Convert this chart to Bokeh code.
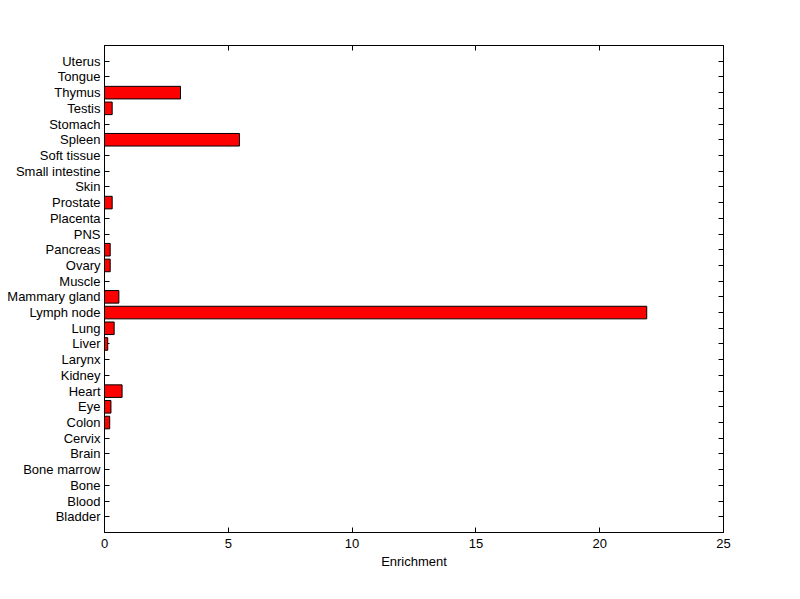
from bokeh.plotting import figure
from bokeh.models import Range1d, LinearAxis, FixedTicker, ColumnDataSource
from bokeh.embed import file_html
from bokeh.resources import INLINE

tissues = ["Bladder", "Blood", "Bone", "Bone marrow", "Brain", "Cervix", "Colon", "Eye",
           "Heart", "Kidney", "Larynx", "Liver", "Lung", "Lymph node", "Mammary gland",
           "Muscle", "Ovary", "Pancreas", "PNS", "Placenta", "Prostate", "Skin",
           "Small intestine", "Soft tissue", "Spleen", "Stomach", "Testis", "Thymus",
           "Tongue", "Uterus"]
enrichment = [0, 0, 0, 0, 0, 0, 0.21, 0.26, 0.71, 0, 0, 0.13, 0.39, 21.9, 0.58,
              0, 0.23, 0.23, 0, 0, 0.31, 0, 0, 0, 5.45, 0, 0.31, 3.07, 0, 0]
x_ticks = [0, 5, 10, 15, 20, 25]

positions = list(range(1, len(tissues) + 1))
src = ColumnDataSource(dict(y=positions, right=enrichment))

FONT = "Liberation Sans"
FS = "13px"

p = figure(width=784, height=583, output_backend="svg", toolbar_location=None,
           x_range=Range1d(0, 25), y_range=Range1d(0, len(tissues) + 1),
           min_border_left=104, min_border_right=61, min_border_top=45, min_border_bottom=51,
           x_axis_label="Enrichment")
r = p.hbar(y="y", left=0, right="right", height=0.8, source=src,
           fill_color="#ff0000", line_color="black", line_width=1)
r.level = "annotation"

p.xgrid.visible = False
p.ygrid.visible = False
p.outline_line_color = "black"
p.outline_line_width = 1
p.background_fill_color = "white"
p.border_fill_color = "white"

xa = p.xaxis[0]
xa.ticker = FixedTicker(ticks=x_ticks)
xa.minor_tick_line_color = None
xa.major_tick_in = 5
xa.major_tick_out = 0
xa.major_label_standoff = 6
xa.axis_label_standoff = 3
xa.major_label_text_font = FONT
xa.major_label_text_font_size = FS
xa.major_label_text_color = "black"
xa.axis_label_text_font = FONT
xa.axis_label_text_font_size = FS
xa.axis_label_text_font_style = "normal"
xa.axis_label_text_color = "black"
xa.axis_line_color = "black"

ya = p.yaxis[0]
ya.ticker = FixedTicker(ticks=positions)
ya.major_label_overrides = {i: t for i, t in zip(positions, tissues)}
ya.minor_tick_line_color = None
ya.major_tick_in = 5
ya.major_tick_out = 0
ya.major_label_standoff = 4
ya.major_label_text_font = FONT
ya.major_label_text_font_size = FS
ya.major_label_text_color = "black"
ya.axis_line_color = "black"

top = LinearAxis(ticker=FixedTicker(ticks=x_ticks), major_label_text_font_size="0px",
                 major_tick_in=5, major_tick_out=0, minor_tick_line_color=None,
                 major_label_standoff=0)
top.major_label_text_color = None
p.add_layout(top, "above")

right = LinearAxis(ticker=FixedTicker(ticks=positions), major_label_text_font_size="0px",
                   major_tick_in=5, major_tick_out=0, minor_tick_line_color=None,
                   major_label_standoff=0)
right.major_label_text_color = None
p.add_layout(right, "right")

open("out.html", "w").write(file_html(p, INLINE))
